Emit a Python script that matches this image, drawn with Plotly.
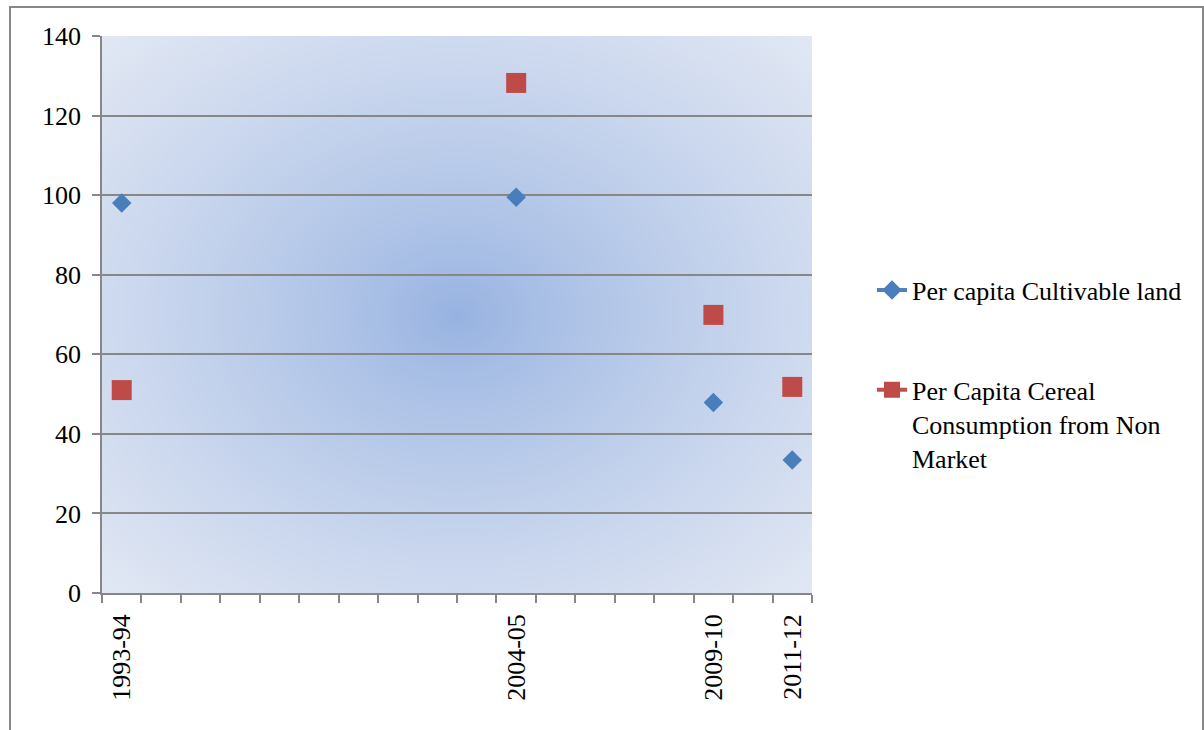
import base64, struct, zlib
import numpy as np
import plotly.graph_objects as go

# ---- data ----
periods = ["1993-94", "2004-05", "2009-10", "2011-12"]
slot = [0, 10, 15, 17]            # position on Excel's date axis (18 slots)
n_slots = 18
cultivable_land = [98.0, 99.5, 47.9, 33.4]
cereal_non_market = [51.0, 128.2, 69.9, 51.8]
series_names = ["Per capita Cultivable land",
                "Per Capita Cereal<br>Consumption from Non<br>Market"]

# ---- radial gradient background as PNG ----
W, H = 710, 557
yy, xx = np.mgrid[0:H, 0:W]
dx = (xx - W / 2) / (W / 2)
dy = (yy - H / 2) / (H / 2)
t = np.clip(np.sqrt(dx ** 2 + dy ** 2) / np.sqrt(2), 0, 1) ** 0.8
c0 = np.array([0x96, 0xB2, 0xE1], float)
c1 = np.array([0xE2, 0xE8, 0xF4], float)
img = (c0[None, None, :] * (1 - t[..., None]) + c1[None, None, :] * t[..., None]).astype(np.uint8)
raw = b"".join(b"\x00" + img[r].tobytes() for r in range(H))
def chunk(tag, data):
    return struct.pack(">I", len(data)) + tag + data + struct.pack(">I", zlib.crc32(tag + data) & 0xFFFFFFFF)
png = (b"\x89PNG\r\n\x1a\n" + chunk(b"IHDR", struct.pack(">IIBBBBB", W, H, 8, 2, 0, 0, 0))
       + chunk(b"IDAT", zlib.compress(raw, 9)) + chunk(b"IEND", b""))
bg_uri = "data:image/png;base64," + base64.b64encode(png).decode()

def spread(vals):
    xs, ys = [], []
    for s, v in zip(slot, vals):
        xs += [s, None]
        ys += [v, None]
    return xs, ys

fig = go.Figure()
x1, y1 = spread(cultivable_land)
x2, y2 = spread(cereal_non_market)
fig.add_trace(go.Scatter(x=x1, y=y1, mode="lines+markers", name=series_names[0],
                         connectgaps=False, legendgroup="a",
                         line=dict(color="#4F81BD", width=4),
                         marker=dict(symbol="diamond", size=15, color="#4A7EBB")))
fig.add_trace(go.Scatter(x=x2, y=y2, mode="lines+markers", name=series_names[1],
                         connectgaps=False, legendgroup="b",
                         line=dict(color="#C0504D", width=4),
                         marker=dict(symbol="square", size=20, color="#BE4B48")))

font = dict(family="Liberation Serif, Times New Roman, serif", size=26, color="black")

fig.update_layout(
    width=1204, height=730,
    margin=dict(l=102, r=392, t=36, b=137),
    paper_bgcolor="white", plot_bgcolor="rgba(0,0,0,0)",
    font=font,
    showlegend=True,
    legend=dict(x=1.0845, xanchor="left", y=0.586, yanchor="top",
                font=font, valign="top", tracegroupgap=63,
                traceorder="grouped", bgcolor="rgba(0,0,0,0)"),
    images=[dict(source=bg_uri, xref="paper", yref="paper", x=0, y=1,
                 sizex=1, sizey=1, sizing="stretch", xanchor="left", yanchor="top",
                 layer="below")],
    shapes=[dict(type="rect", xref="paper", yref="paper",
                 x0=(10 - 102) / 710, x1=(1203 - 102) / 710,
                 y0=-0.5, y1=(593 - 7) / 557,
                 line=dict(color="#878787", width=2), fillcolor="rgba(0,0,0,0)",
                 layer="below")],
)
fig.update_xaxes(range=[-0.5, n_slots - 0.5], tickmode="array", tickvals=slot,
                 ticktext=periods, tickangle=-90, ticks="", showgrid=False,
                 showline=True, linecolor="#878787", linewidth=1.5,
                 tickfont=font, zeroline=False, ticklabelstandoff=9,
                 minor=dict(tickmode="linear", tick0=-0.5, dtick=1, ticks="outside",
                            ticklen=8, tickcolor="#878787", tickwidth=1.5, showgrid=False))
fig.update_yaxes(range=[0, 140], dtick=20, tick0=0, ticks="outside", ticklen=8,
                 tickcolor="#878787", tickwidth=1.5, showline=True, linecolor="#878787",
                 linewidth=1.5, showgrid=True, gridcolor="#878787", gridwidth=1.5,
                 zeroline=False, tickfont=font, ticklabelstandoff=6)

fig.write_html("out.html")
